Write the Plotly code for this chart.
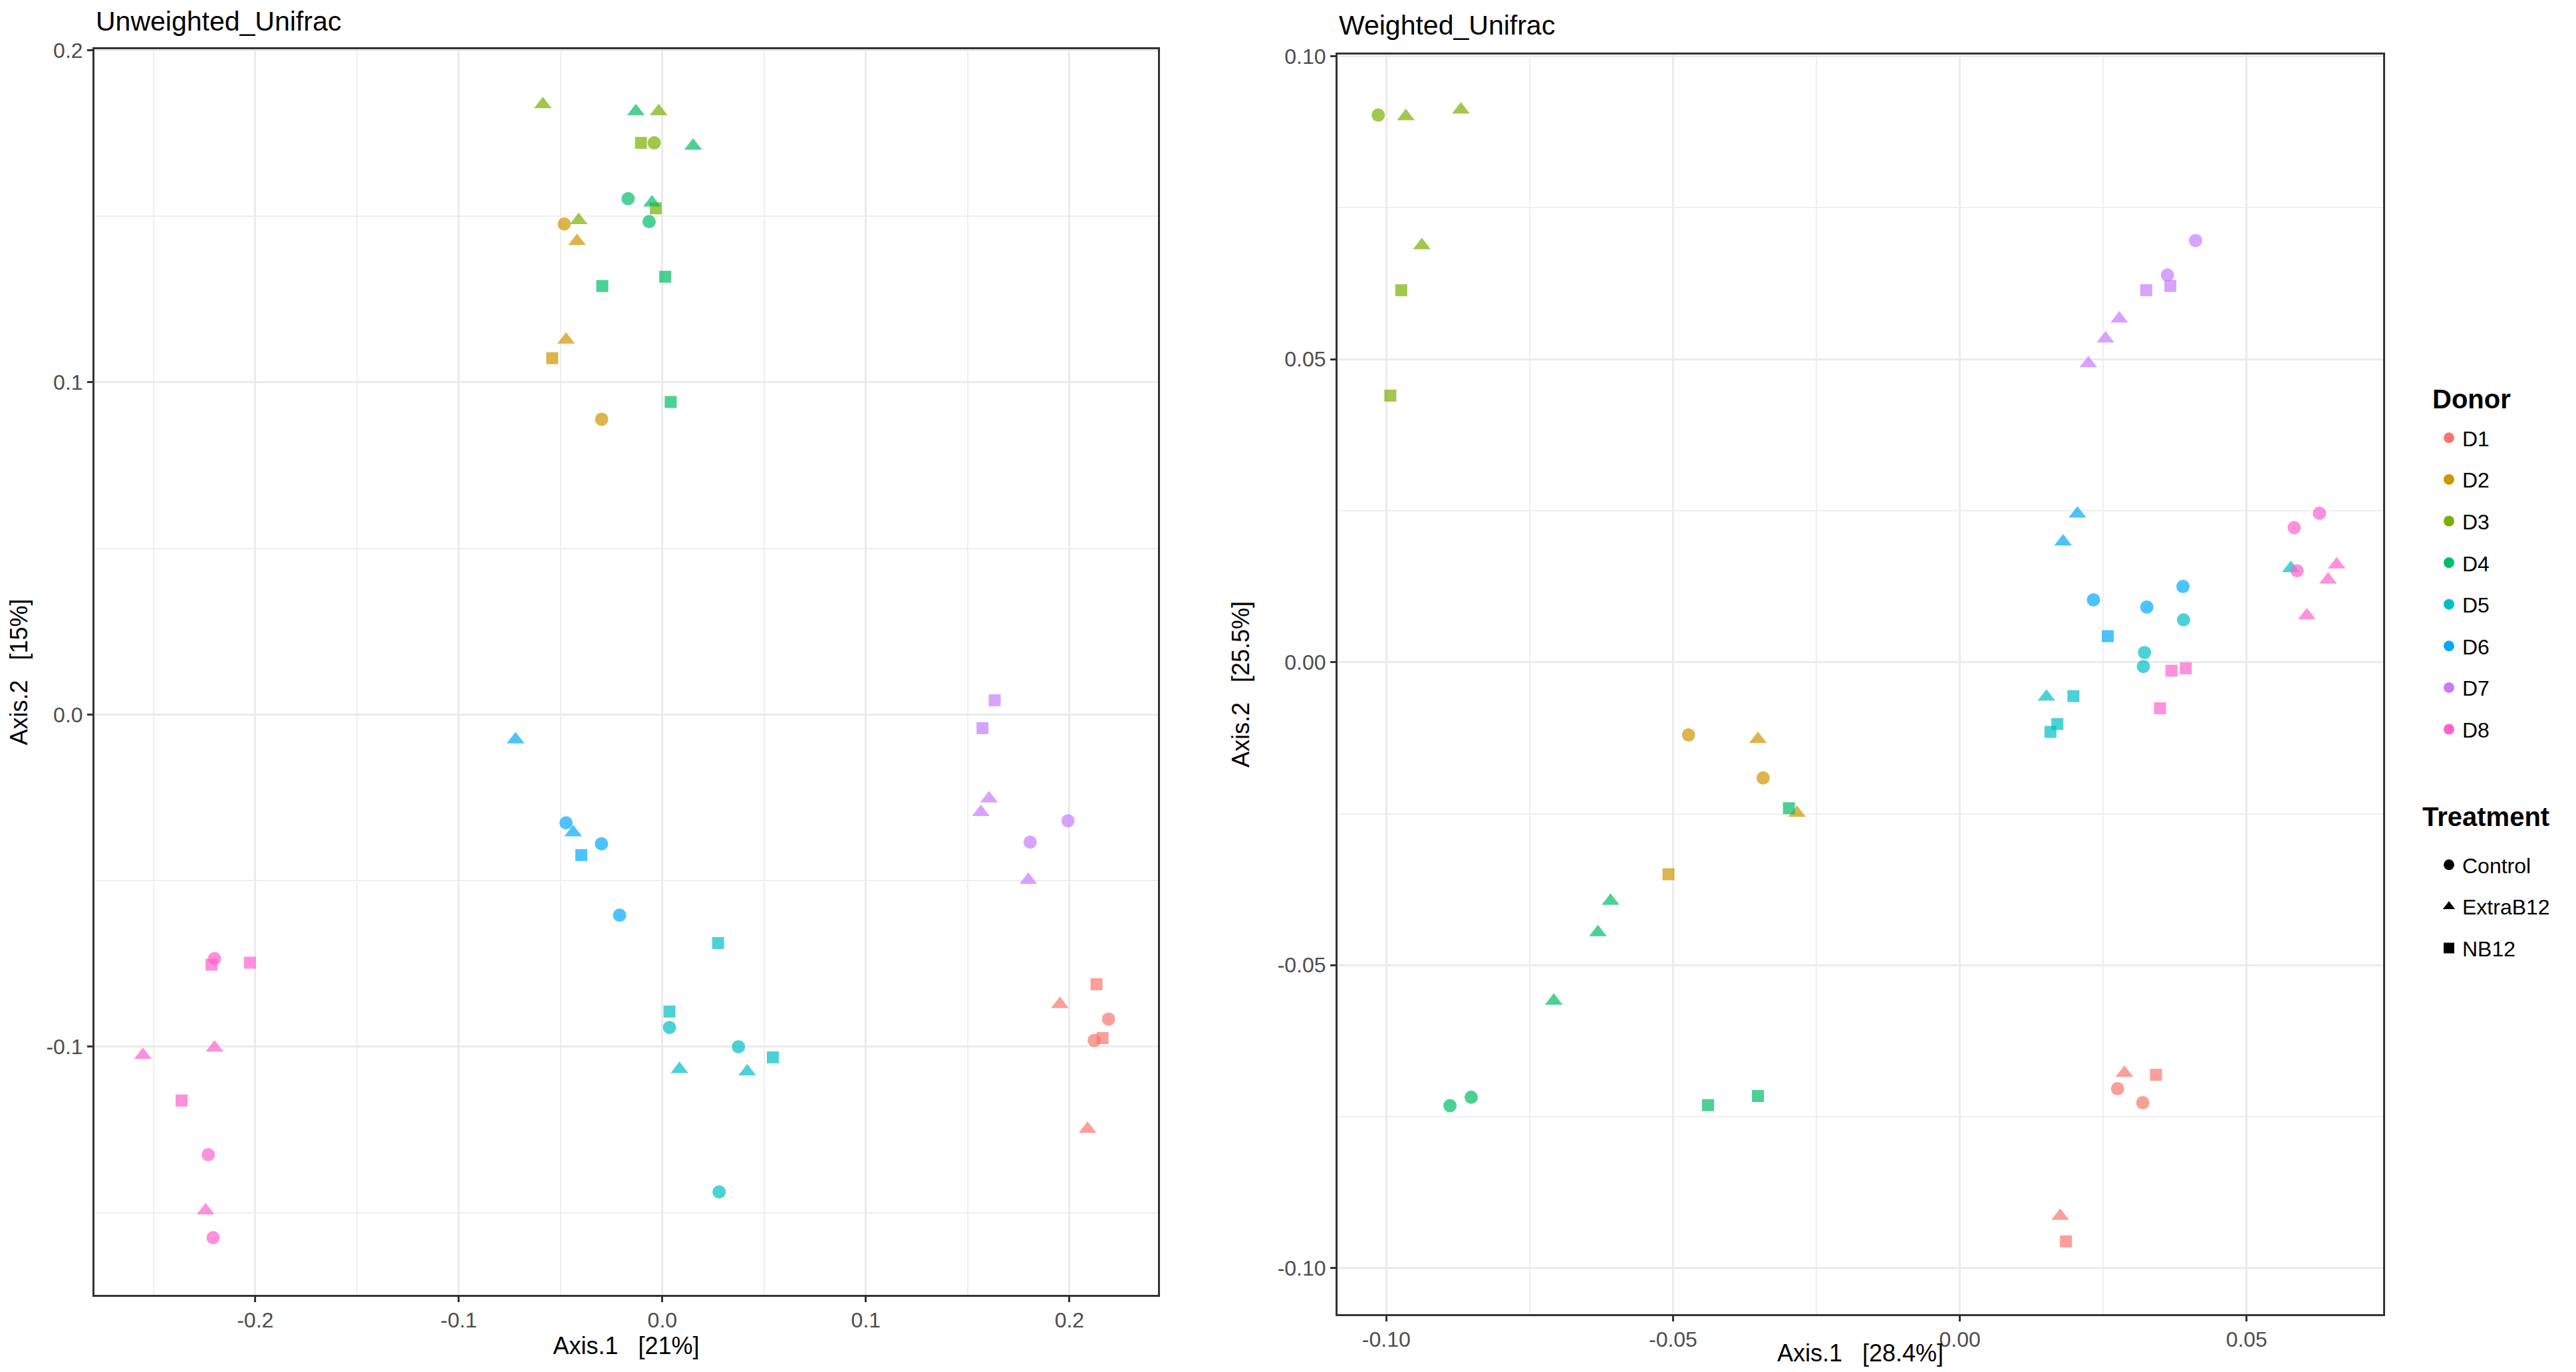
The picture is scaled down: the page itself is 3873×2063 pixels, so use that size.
import plotly.graph_objects as go

# ---- data ----
donors = ['D1', 'D2', 'D3', 'D4', 'D5', 'D6', 'D7', 'D8']
treatments = ['Control', 'ExtraB12', 'NB12']
donor_colors = ['#F8766D', '#CD9600', '#7CAE00', '#00BE67',
                '#00BFC4', '#00A9FF', '#C77CFF', '#FF61CC']

# Unweighted_Unifrac
unw_donor = (['D1'] * 6 + ['D2'] * 5 + ['D3'] * 6 + ['D4'] * 8 +
             ['D5'] * 8 + ['D6'] * 6 + ['D7'] * 7 + ['D8'] * 9)
unw_treat = ['NB12', 'NB12', 'ExtraB12', 'ExtraB12', 'Control', 'Control',
             'Control', 'Control', 'ExtraB12', 'ExtraB12', 'NB12',
             'ExtraB12', 'ExtraB12', 'ExtraB12', 'NB12', 'NB12', 'Control',
             'ExtraB12', 'ExtraB12', 'ExtraB12', 'Control', 'Control', 'NB12', 'NB12', 'NB12',
             'NB12', 'NB12', 'NB12', 'Control', 'Control', 'Control', 'ExtraB12', 'ExtraB12',
             'ExtraB12', 'ExtraB12', 'Control', 'Control', 'Control', 'NB12',
             'NB12', 'NB12', 'ExtraB12', 'ExtraB12', 'ExtraB12', 'Control', 'Control',
             'Control', 'Control', 'Control', 'NB12', 'NB12', 'NB12', 'ExtraB12', 'ExtraB12', 'ExtraB12']
unw_x = [0.2133, 0.2163, 0.1953, 0.2089, 0.2192, 0.2122,
         -0.0482, -0.0298, -0.0419, -0.0473, -0.0541,
         -0.0587, -0.0018, -0.0411, -0.0105, -0.0032, -0.0040,
         -0.0130, 0.0151, -0.0051, -0.0168, -0.0065, -0.0295, 0.0014, 0.0041,
         0.0274, 0.0035, 0.0543, 0.0035, 0.0374, 0.0279, 0.0084, 0.0417,
         -0.0721, -0.0438, -0.0473, -0.0299, -0.0210, -0.0398,
         0.1633, 0.1573, 0.1605, 0.1565, 0.1798, 0.1993, 0.1807,
         -0.2200, -0.2231, -0.2207, -0.2215, -0.2026, -0.2362, -0.2200, -0.2552, -0.2244]
unw_y = [-0.0812, -0.0974, -0.0872, -0.1248, -0.0917, -0.0981,
         0.1477, 0.0889, 0.1425, 0.1128, 0.1073,
         0.1837, 0.1816, 0.1488, 0.1721, 0.1524, 0.1721,
         0.1816, 0.1712, 0.1541, 0.1553, 0.1484, 0.1290, 0.1318, 0.0941,
         -0.0688, -0.0894, -0.1032, -0.0942, -0.1000, -0.1437, -0.1068, -0.1075,
         -0.0075, -0.0355, -0.0326, -0.0389, -0.0604, -0.0423,
         0.0043, -0.0041, -0.0253, -0.0294, -0.0498, -0.0320, -0.0384,
         -0.0735, -0.1325, -0.1575, -0.0753, -0.0747, -0.1162, -0.1003, -0.1025, -0.1493]

# Weighted_Unifrac
w_donor = (['D1'] * 6 + ['D2'] * 5 + ['D3'] * 6 + ['D4'] * 8 +
           ['D5'] * 8 + ['D6'] * 6 + ['D7'] * 7 + ['D8'] * 9)
w_treat = ['ExtraB12', 'ExtraB12', 'NB12', 'NB12', 'Control', 'Control',
           'Control', 'Control', 'ExtraB12', 'ExtraB12', 'NB12',
           'Control', 'ExtraB12', 'ExtraB12', 'ExtraB12', 'NB12', 'NB12',
           'ExtraB12', 'ExtraB12', 'ExtraB12', 'Control', 'Control', 'NB12', 'NB12', 'NB12',
           'ExtraB12', 'ExtraB12', 'NB12', 'NB12', 'NB12', 'Control', 'Control', 'Control',
           'ExtraB12', 'ExtraB12', 'Control', 'Control', 'Control', 'NB12',
           'Control', 'Control', 'NB12', 'NB12', 'ExtraB12', 'ExtraB12', 'ExtraB12',
           'Control', 'Control', 'Control', 'ExtraB12', 'ExtraB12', 'ExtraB12', 'NB12', 'NB12', 'NB12']
w_x = [0.0287, 0.0175, 0.0342, 0.0185, 0.0275, 0.0319,
       -0.0473, -0.0343, -0.0352, -0.0284, -0.0508,
       -0.1014, -0.0966, -0.0870, -0.0938, -0.0974, -0.0993,
       -0.0609, -0.0631, -0.0708, -0.0852, -0.0889, -0.0298, -0.0439, -0.0352,
       0.0151, 0.0577, 0.0198, 0.0170, 0.0158, 0.0390, 0.0322, 0.0320,
       0.0205, 0.0180, 0.0233, 0.0326, 0.0389, 0.0258,
       0.0411, 0.0362, 0.0367, 0.0325, 0.0278, 0.0254, 0.0224,
       0.0627, 0.0583, 0.0588, 0.0657, 0.0642, 0.0605, 0.0369, 0.0394, 0.0349]
w_y = [-0.0678, -0.0914, -0.0681, -0.0956, -0.0704, -0.0727,
       -0.0120, -0.0191, -0.0127, -0.0249, -0.0350,
       0.0903, 0.0901, 0.0912, 0.0688, 0.0614, 0.0440,
       -0.0394, -0.0446, -0.0559, -0.0718, -0.0732, -0.0241, -0.0731, -0.0716,
       -0.0057, 0.0155, -0.0056, -0.0102, -0.0115, 0.0070, 0.0016, -0.0007,
       0.0245, 0.0199, 0.0103, 0.0091, 0.0125, 0.0043,
       0.0696, 0.0639, 0.0621, 0.0614, 0.0567, 0.0534, 0.0493,
       0.0246, 0.0222, 0.0151, 0.0161, 0.0136, 0.0077, -0.0014, -0.0010, -0.0076]

unw_xticks = [-0.2, -0.1, 0.0, 0.1, 0.2]
unw_xticktext = ['-0.2', '-0.1', '0.0', '0.1', '0.2']
unw_yticks = [-0.1, 0.0, 0.1, 0.2]
unw_yticktext = ['-0.1', '0.0', '0.1', '0.2']
w_xticks = [-0.10, -0.05, 0.00, 0.05]
w_xticktext = ['-0.10', '-0.05', '0.00', '0.05']
w_yticks = [-0.10, -0.05, 0.00, 0.05, 0.10]
w_yticktext = ['-0.10', '-0.05', '0.00', '0.05', '0.10']

FONT = 'Liberation Sans, Arial, sans-serif'
symbols = {'Control': 'circle', 'ExtraB12': 'triangle-up', 'NB12': 'square'}
sizes = {'Control': 20, 'ExtraB12': 23, 'NB12': 18}
color_of = dict(zip(donors, donor_colors))

# page body has an 8px margin, so the figure is a bit smaller than the window
W, H, OFF = 3857, 2047, 8


def px_x(px):
    return (px - OFF) / W


def px_y(py):
    return 1 - (py - OFF) / H


fig = go.Figure()


def add_panel(donor_col, treat_col, xs, ys, xa, ya):
    for d in donors:
        idx = [i for i, v in enumerate(donor_col) if v == d]
        fig.add_trace(go.Scatter(
            x=[xs[i] for i in idx],
            y=[ys[i] for i in idx],
            mode='markers',
            marker=dict(
                color=color_of[d],
                symbol=[symbols[treat_col[i]] for i in idx],
                size=[sizes[treat_col[i]] for i in idx],
                line=dict(width=0)),
            xaxis=xa, yaxis=ya,
            showlegend=False,
            hoverinfo='skip'))


add_panel(unw_donor, unw_treat, unw_x, unw_y, 'x', 'y')
add_panel(w_donor, w_treat, w_x, w_y, 'x2', 'y2')

# legend entries
for d in donors:
    fig.add_trace(go.Scatter(
        x=[None], y=[None], mode='markers', name=d,
        marker=dict(color=color_of[d], symbol='circle', size=20),
        legend='legend', legendgroup=d, xaxis='x2', yaxis='y2'))
for t in treatments:
    fig.add_trace(go.Scatter(
        x=[None], y=[None], mode='markers', name=t,
        marker=dict(color='black', symbol=symbols[t], size=sizes[t]),
        legend='legend2', legendgroup=t, xaxis='x2', yaxis='y2'))

axis_common = dict(
    showgrid=True, gridcolor='#EBEBEB', gridwidth=3,
    zeroline=False, showline=True, mirror=True,
    linecolor='#333333', linewidth=3,
    ticks='outside', ticklen=8, tickwidth=3, tickcolor='#333333',
    tickfont=dict(family=FONT, size=32, color='#4D4D4D'),
    tickmode='array', automargin=False,
)
title_font = dict(family=FONT, size=36, color='black')
legend_common = dict(
    font=dict(family=FONT, size=32, color='black'),
    x=px_x(3662), xanchor='left', yanchor='top',
    traceorder='grouped', tracegroupgap=18, itemsizing='trace',
    bgcolor='rgba(0,0,0,0)')

fig.update_layout(
    width=W, height=H,
    margin=dict(l=0, r=0, t=0, b=0, autoexpand=False),
    paper_bgcolor='white', plot_bgcolor='white',
    font=dict(family=FONT),
    xaxis=dict(axis_common, domain=[px_x(142), px_x(1741)], range=[-0.279, 0.2435],
               tickvals=unw_xticks, ticktext=unw_xticktext,
               minor=dict(tickmode='linear', tick0=0, dtick=0.05, showgrid=True,
                          gridcolor='#EFEFEF', gridwidth=1.5),
               title=dict(text='Axis.1\u00a0\u00a0\u00a0[21%]', font=title_font, standoff=6),
               anchor='y'),
    yaxis=dict(axis_common, domain=[px_y(1947), px_y(74)], range=[-0.1747, 0.2003],
               tickvals=unw_yticks, ticktext=unw_yticktext,
               minor=dict(tickmode='linear', tick0=0, dtick=0.05, showgrid=True,
                          gridcolor='#EFEFEF', gridwidth=1.5),
               title=dict(text='Axis.2\u00a0\u00a0\u00a0[15%]', font=title_font, standoff=22),
               anchor='x'),
    xaxis2=dict(axis_common, domain=[px_x(2011), px_x(3583)], range=[-0.1085, 0.0738],
                tickvals=w_xticks, ticktext=w_xticktext,
                minor=dict(tickmode='linear', tick0=0, dtick=0.025, showgrid=True,
                           gridcolor='#EFEFEF', gridwidth=1.5),
                title=dict(text='Axis.1\u00a0\u00a0\u00a0[28.4%]', font=title_font, standoff=6),
                anchor='y2'),
    yaxis2=dict(axis_common, domain=[px_y(1976), px_y(82)], range=[-0.1076, 0.1003],
                tickvals=w_yticks, ticktext=w_yticktext,
                minor=dict(tickmode='linear', tick0=0, dtick=0.025, showgrid=True,
                           gridcolor='#EFEFEF', gridwidth=1.5),
                title=dict(text='Axis.2\u00a0\u00a0\u00a0[25.5%]', font=title_font, standoff=32),
                anchor='x2'),
    legend=dict(legend_common, y=px_y(631)),
    legend2=dict(legend_common, y=px_y(1273)),
)

# panel titles
fig.add_annotation(text='Unweighted_Unifrac', xref='x domain', yref='y domain',
                   x=0, y=1, xanchor='left', yanchor='bottom', yshift=17,
                   showarrow=False, font=dict(family=FONT, size=41, color='black'))
fig.add_annotation(text='Weighted_Unifrac', xref='x2 domain', yref='y2 domain',
                   x=0, y=1, xanchor='left', yanchor='bottom', yshift=19,
                   showarrow=False, font=dict(family=FONT, size=41, color='black'))

# legend titles
fig.add_annotation(text='<b>Donor</b>', xref='paper', yref='paper',
                   x=px_x(3655), y=px_y(600), xanchor='left', yanchor='middle',
                   showarrow=False, font=dict(family=FONT, size=40, color='black'))
fig.add_annotation(text='<b>Treatment</b>', xref='paper', yref='paper',
                   x=px_x(3640), y=px_y(1228), xanchor='left', yanchor='middle',
                   showarrow=False, font=dict(family=FONT, size=40, color='black'))

fig.write_html('out.html')
